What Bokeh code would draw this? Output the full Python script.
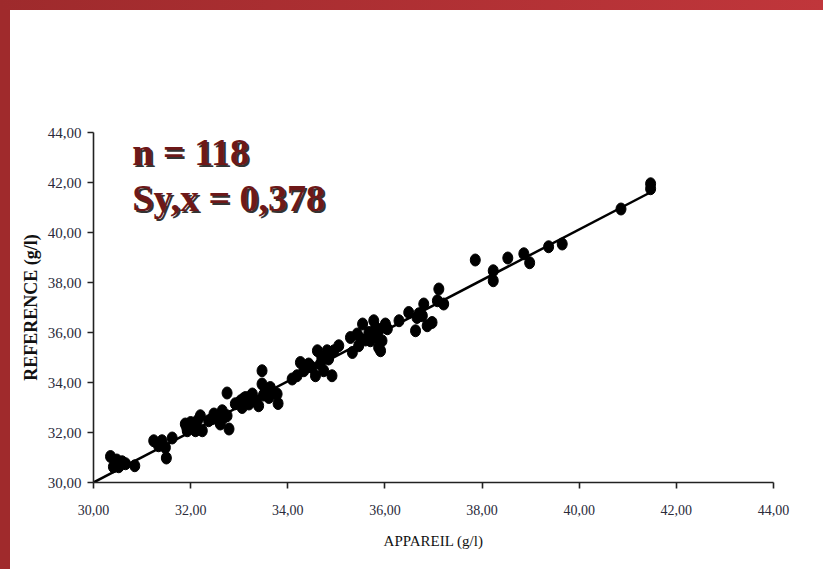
from bokeh.plotting import figure
from bokeh.models import Range1d, FixedTicker, Label, Spacer, ColumnDataSource
from bokeh.layouts import column, row
from bokeh.embed import file_html
from bokeh.resources import INLINE

# ---- data ----
appareil = [
    30.35, 30.45, 30.52, 30.59, 30.41, 30.66, 30.85, 30.55, 30.48,
    31.24, 31.34, 31.41, 31.50, 31.48, 31.62,
    31.89, 31.93, 32.00, 32.07, 32.10, 32.20, 32.24, 31.96, 32.14, 32.03, 31.92,
    32.37, 32.48, 32.55, 32.61, 32.65, 32.75, 32.79, 32.75, 32.58, 32.44,
    33.03, 33.06, 33.13, 33.20, 33.27, 33.34, 33.40, 33.47, 33.47, 33.54,
    33.64, 33.61, 33.78, 33.80, 32.92, 33.09, 33.17, 33.24, 33.30, 33.50,
    34.09, 34.19, 34.26, 34.33, 34.43, 34.57, 34.61, 34.67, 34.74, 34.81,
    34.84, 34.91, 34.95, 35.05, 34.50, 34.70,
    35.29, 35.33, 35.43, 35.46, 35.54, 35.67, 35.70, 35.77, 35.81, 35.84,
    35.87, 35.94, 35.91, 36.01, 35.75, 35.88, 35.60,
    36.29, 36.49, 36.63, 36.66, 36.77, 36.80, 36.87, 36.97, 37.08, 37.11, 37.21, 36.70,
    37.86, 38.23, 38.23, 38.53, 38.86, 38.98, 39.37, 39.65, 40.86, 41.47, 41.47,
    31.98, 32.68, 33.15, 33.70, 35.50, 36.05,
]
reference = [
    31.04, 30.80, 30.63, 30.83, 30.63, 30.75, 30.67, 30.72, 30.90,
    31.67, 31.47, 31.67, 30.98, 31.40, 31.78,
    32.34, 32.07, 32.40, 32.27, 32.07, 32.67, 32.07, 32.19, 32.47, 32.30, 32.20,
    32.47, 32.74, 32.54, 32.34, 32.87, 32.67, 32.14, 33.58, 32.65, 32.55,
    33.27, 33.00, 33.40, 33.14, 33.54, 33.27, 33.07, 34.47, 33.94, 33.67,
    33.80, 33.40, 33.54, 33.16, 33.15, 33.35, 33.20, 33.45, 33.30, 33.50,
    34.14, 34.27, 34.80, 34.47, 34.74, 34.27, 35.27, 34.74, 34.47, 35.27,
    34.94, 34.27, 35.27, 35.47, 34.60, 35.00,
    35.80, 35.20, 35.94, 35.47, 36.34, 36.00, 35.67, 36.47, 36.20, 35.80,
    35.40, 35.67, 35.27, 36.34, 35.90, 36.10, 35.70,
    36.47, 36.80, 36.07, 36.60, 36.67, 37.14, 36.27, 36.40, 37.27, 37.74, 37.14, 36.75,
    38.90, 38.47, 38.07, 38.98, 39.15, 38.79, 39.43, 39.54, 40.94, 41.95, 41.75,
    32.22, 32.60, 33.30, 33.60, 35.75, 36.15,
]
assert len(appareil) == len(reference) == 118

fit_x = [30.0, 41.50]
fit_y = [30.0, 41.64]

ticks = [30, 32, 34, 36, 38, 40, 42, 44]
tick_labels = ["30,00", "32,00", "34,00", "36,00", "38,00", "40,00", "42,00", "44,00"]

stat_lines = ["n = 118", "Sy,x = 0,378"]

# ---- figure ----
p = figure(width=810, height=559, x_range=Range1d(30, 44), y_range=Range1d(30, 44),
           output_backend="svg", toolbar_location=None,
           min_border_left=83, min_border_right=47, min_border_top=122, min_border_bottom=87,
           background_fill_color="white", border_fill_color="white")
p.grid.visible = False
p.outline_line_color = None

for ax in (p.xaxis[0], p.yaxis[0]):
    ax.ticker = FixedTicker(ticks=ticks)
    ax.major_label_overrides = {t: l for t, l in zip(ticks, tick_labels)}
    ax.minor_tick_line_color = None
    ax.major_tick_in = 0
    ax.major_tick_out = 6
    ax.axis_line_color = "#222222"
    ax.axis_line_width = 1.6
    ax.major_tick_line_color = "#222222"
    ax.major_tick_line_width = 1.6
    ax.major_label_text_font = "Liberation Serif"
    ax.major_label_text_font_size = "14px"
    ax.major_label_text_color = "#2a2a3a"
    ax.axis_label_text_font = "Liberation Serif"
    ax.axis_label_text_color = "#111111"

p.xaxis[0].axis_label = "APPAREIL (g/l)"
p.xaxis[0].axis_label_text_font_size = "15px"
p.xaxis[0].axis_label_text_font_style = "normal"
p.xaxis[0].major_label_standoff = 16
p.xaxis[0].axis_label_standoff = 15

p.yaxis[0].axis_label = "REFERENCE (g/l)"
p.yaxis[0].major_label_text_font_size = "15px"
p.yaxis[0].axis_label_text_font_size = "18px"
p.yaxis[0].axis_label_text_font_style = "bold"
p.yaxis[0].major_label_standoff = 6
p.yaxis[0].axis_label_standoff = 4

p.line(fit_x, fit_y, line_color="black", line_width=2.5)

src = ColumnDataSource(dict(x=appareil, y=reference))
p.ellipse(x="x", y="y", width=10, height=12, width_units="screen", height_units="screen",
          source=src, fill_color="black", line_color="black")

for txt, yy in zip(stat_lines, [43.23, 41.37]):
    p.add_layout(Label(x=30.80, y=yy, text=txt, x_offset=2, y_offset=-2,
                       text_font="Liberation Serif", text_font_style="bold",
                       text_font_size="38px", text_color="#333333",
                       text_baseline="alphabetic"))
    p.add_layout(Label(x=30.80, y=yy, text=txt,
                       text_font="Liberation Serif", text_font_style="bold",
                       text_font_size="38px", text_color="#6e1818",
                       text_baseline="alphabetic"))

top_band = Spacer(width=823, height=10,
                  styles={"background": "linear-gradient(90deg, #9e2a2c, #c0363b)"})
left_band = Spacer(width=10, height=559, styles={"background": "#a02a2c"})

layout = column(top_band, row(left_band, p))

open("out.html", "w").write(file_html(layout, INLINE))
